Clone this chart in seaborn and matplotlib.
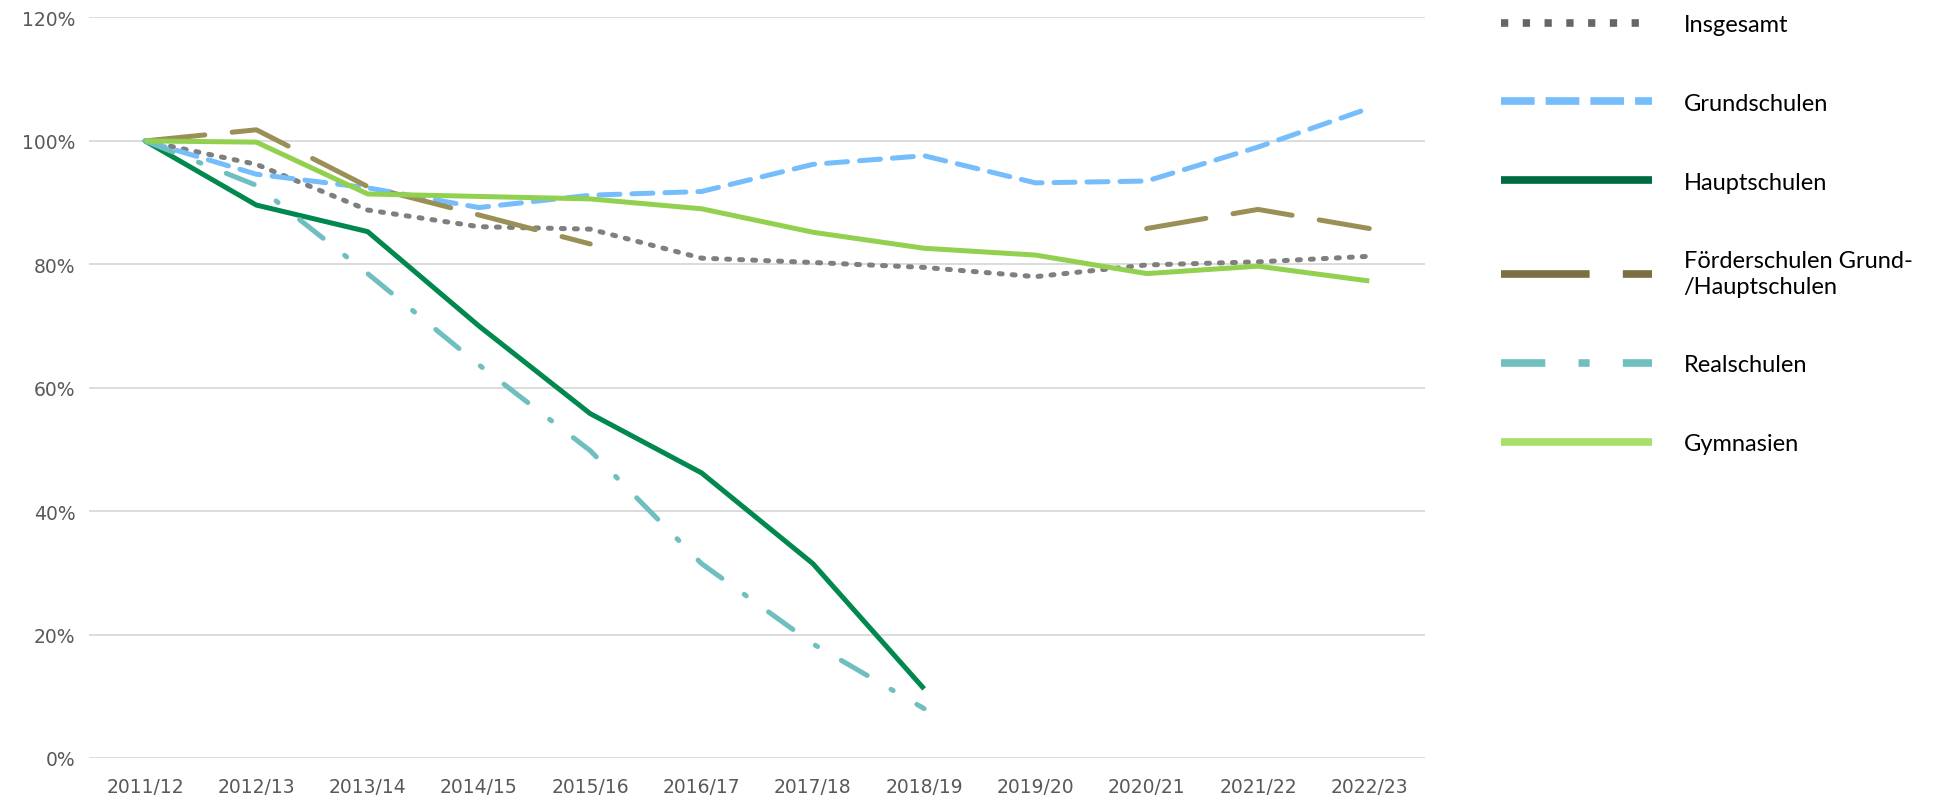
import numpy as np
import pandas as pd
import matplotlib
matplotlib.use("Agg")
import matplotlib.pyplot as plt
import seaborn as sns
from matplotlib.lines import Line2D

# school years on the x axis
years = ["2011/12", "2012/13", "2013/14", "2014/15", "2015/16", "2016/17",
         "2017/18", "2018/19", "2019/20", "2020/21", "2021/22", "2022/23"]

# index values in percent (2011/12 = 100)
insgesamt = [100, 96.2, 88.8, 86.1, 85.7, 81.0, 80.3, 79.5, 78.0, 79.9, 80.4, 81.3]
grundschulen = [100, 94.6, 92.4, 89.2, 91.2, 91.8, 96.2, 97.6, 93.2, 93.5, 99.0, 105.3]
hauptschulen = [100, 89.6, 85.3, 70.0, 55.8, 46.2, 31.5, 11.2, np.nan, np.nan, np.nan, np.nan]
foerderschulen = [100, 101.8, 92.6, 88.0, 83.3, np.nan, np.nan, np.nan, np.nan, 85.8, 88.9, 85.8]
realschulen = [100, 92.8, 78.5, 63.7, 49.8, 31.5, 18.5, 8.0, np.nan, np.nan, np.nan, np.nan]
gymnasien = [100, 99.8, 91.4, 91.0, 90.6, 89.0, 85.2, 82.6, 81.5, 78.5, 79.7, 77.3]

series = {
    "Insgesamt": insgesamt,
    "Grundschulen": grundschulen,
    "Hauptschulen": hauptschulen,
    "Förderschulen Grund-\n/Hauptschulen": foerderschulen,
    "Realschulen": realschulen,
    "Gymnasien": gymnasien,
}

# line colour and dash pattern (in linewidth units) for the plot
styles = {
    "Insgesamt": ("#7f7f7f", (0.6, 2.0)),
    "Grundschulen": ("#75bdfb", (4.2, 2.4)),
    "Hauptschulen": ("#00884f", None),
    "Förderschulen Grund-\n/Hauptschulen": ("#9a9057", (12.0, 5.5)),
    "Realschulen": ("#70bfc0", (6.0, 5.5, 0.5, 5.5)),
    "Gymnasien": ("#92d050", None),
}
# the legend swatches are a bit darker and use flat dashes
legend_styles = {
    "Insgesamt": ("#666666", [0.95, 1.9]),
    "Grundschulen": ("#75bdfb", [4.4, 1.45]),
    "Hauptschulen": ("#006a43", None),
    "Förderschulen Grund-\n/Hauptschulen": ("#7a7042", [11.6, 4.35]),
    "Realschulen": ("#70bfc0", [5.8, 4.35, 1.45, 4.35]),
    "Gymnasien": ("#a6e06a", None),
}

rows = []
for name, vals in series.items():
    seg = 0
    for i, v in enumerate(vals):
        if np.isnan(v):
            seg += 1
            continue
        rows.append({"serie": name, "x": i, "wert": v, "seg": seg})
df = pd.DataFrame(rows)

sns.set_theme(style="white")
plt.rcParams["font.family"] = ["DejaVu Sans"]

fig = plt.figure(figsize=(19.44, 8.04), dpi=100)
ax = fig.add_axes([0.046, 0.056, 0.687, 0.921])

lw = 3.6
for name in series:
    color, dashes = styles[name]
    sub = df[df["serie"] == name]
    # plot each unbroken stretch on its own so gaps stay open
    for seg, part in sub.groupby("seg"):
        sns.lineplot(data=part, x="x", y="wert", ax=ax, color=color,
                     linewidth=lw, legend=False, sort=True)
        line = ax.lines[-1]
        if dashes:
            line.set_dashes(dashes)
            line.set_dash_capstyle("round")
        line.set_solid_capstyle("butt")
        line.set_solid_joinstyle("round")

ax.set_xlim(-0.5, 11.5)
ax.set_ylim(0, 120)
ax.set_yticks(range(0, 121, 20))
ax.set_yticklabels([f"{t}%" for t in range(0, 121, 20)])
ax.set_xticks(range(len(years)))
ax.set_xticklabels(years)
ax.grid(axis="y", color="#d9d9d9", linewidth=1.3)
ax.set_axisbelow(True)
for s in ax.spines.values():
    s.set_visible(False)
ax.tick_params(axis="both", length=0, labelsize=13.5, labelcolor="#595959")
ax.tick_params(axis="x", pad=14)
ax.tick_params(axis="y", pad=10)
ax.set_xlabel("")
ax.set_ylabel("")

handles = []
for name in series:
    color, dashes = legend_styles[name]
    h = Line2D([0], [0], color=color, linewidth=5.5,
               solid_capstyle="butt", dash_capstyle="butt")
    if dashes:
        h.set_dashes(dashes)
    handles.append(h)

leg = fig.legend(handles, list(series.keys()), loc="upper left",
                 bbox_to_anchor=(0.761, 1.008), frameon=False,
                 prop={"family": ["Lato", "DejaVu Sans"], "size": 17},
                 handlelength=6.4, handletextpad=1.35, labelspacing=2.45,
                 borderaxespad=0.5)
for t in leg.get_texts():
    t.set_color("#000000")
    t.set_linespacing(1.25)

fig.savefig("out.png", dpi=100)
